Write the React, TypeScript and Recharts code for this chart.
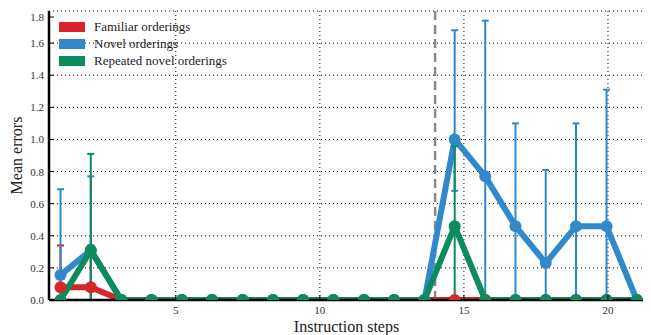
import { LineChart, Line, XAxis, YAxis, CartesianGrid, ErrorBar, ReferenceLine, Legend } from "recharts"

const steps = [1.0, 2.05, 3.11, 4.16, 5.21, 6.26, 7.32, 8.37, 9.42, 10.47, 11.53, 12.58, 13.63, 14.68, 15.74, 16.79, 17.84, 18.89, 19.95, 21.0]

const familiar = [0.08, 0.08, 0, 0, 0, 0, 0, 0, 0, 0, 0, 0, 0, 0, 0, 0, 0, 0, 0, 0]
const familiarUpper = [0.34, 0.34, null, null, null, null, null, null, null, null, null, null, null, null, null, null, null, null, null, null]
const familiarLower = [0, 0, null, null, null, null, null, null, null, null, null, null, null, null, null, null, null, null, null, null]

const novel = [0.155, 0.31, 0, 0, 0, 0, 0, 0, 0, 0, 0, 0, 0, 1.0, 0.77, 0.46, 0.23, 0.46, 0.46, 0]
const novelUpper = [0.69, 0.77, null, null, null, null, null, null, null, null, null, null, null, 1.68, 1.74, 1.1, 0.81, 1.1, 1.31, null]
const novelLower = [0, 0, null, null, null, null, null, null, null, null, null, null, null, 0.68, 0, 0, 0, 0, 0, null]

const repeated = [0, 0.31, 0, 0, 0, 0, 0, 0, 0, 0, 0, 0, 0, 0.46, 0, 0, 0, 0, 0, 0]
const repeatedUpper = [null, 0.91, null, null, null, null, null, null, null, null, null, null, null, 0.96, null, null, null, null, null, null]
const repeatedLower = [null, 0, null, null, null, null, null, null, null, null, null, null, null, 0, null, null, null, null, null, null]

const xTicks = [5, 10, 15, 20]
const yTicks = [0, 0.2, 0.4, 0.6, 0.8, 1.0, 1.2, 1.4, 1.6, 1.8]
const switchStep = 14

const seriesNames = ["Familiar orderings", "Novel orderings", "Repeated novel orderings"]
const colors = ["#d8242b", "#3189cb", "#0b8b5e"]

const font = "'Liberation Serif', 'Times New Roman', serif"

const err = (v: number, lo: number | null, hi: number | null) =>
  hi == null || lo == null ? null : [v - lo, hi - v]

const data = steps.map((step, i) => ({
  step,
  familiar: familiar[i],
  novel: novel[i],
  repeated: repeated[i],
  familiarErr: err(familiar[i], familiarLower[i], familiarUpper[i]),
  novelErr: err(novel[i], novelLower[i], novelUpper[i]),
  repeatedErr: err(repeated[i], repeatedLower[i], repeatedUpper[i]),
}))

function XTick(props: any) {
  const { x, y, payload } = props
  return (
    <g>
      <line x1={x} x2={x} y1={y} y2={y - 5} stroke="#000" strokeWidth={1} />
      <text x={x} y={y + 10} textAnchor="middle" dominantBaseline="central" fontFamily={font} fontSize={11} fill="#333">
        {payload.value}
      </text>
    </g>
  )
}

function YTick(props: any) {
  const { x, y, payload } = props
  return (
    <g>
      <line x1={x} x2={x + 5} y1={y} y2={y} stroke="#000" strokeWidth={1} />
      <text x={x - 5} y={y} textAnchor="end" dominantBaseline="central" fontFamily={font} fontSize={11} fill="#333">
        {Number(payload.value).toFixed(1)}
      </text>
    </g>
  )
}

function LegendBox() {
  return (
    <div style={{ fontFamily: font, fontSize: 13, color: "#222" }}>
      {seriesNames.map((name, i) => (
        <div key={name} style={{ display: "flex", alignItems: "center", height: 17 }}>
          <span style={{ display: "inline-block", width: 26, height: 10, background: colors[i], marginRight: 9 }} />
          <span>{name}</span>
        </div>
      ))}
    </div>
  )
}

export default function App() {
  return (
    <LineChart width={643} height={327} data={data} margin={{ top: 3, right: 7, bottom: 0, left: 0 }}>
      <CartesianGrid stroke="#000" strokeDasharray="1 3" strokeWidth={1} />
      <ReferenceLine x={switchStep} stroke="#8a8a8a" strokeWidth={2.5} strokeDasharray="9 5" />
      <Line
        dataKey="familiar"
        stroke={colors[0]}
        strokeWidth={6}
        dot={{ r: 6, fill: colors[0], stroke: "none" }}
        activeDot={false}
        isAnimationActive={false}
      >
        <ErrorBar dataKey="familiarErr" direction="y" width={3.5} stroke={colors[0]} strokeWidth={2} />
      </Line>
      <Line
        dataKey="novel"
        stroke={colors[1]}
        strokeWidth={6}
        dot={{ r: 6, fill: colors[1], stroke: "none" }}
        activeDot={false}
        isAnimationActive={false}
      >
        <ErrorBar dataKey="novelErr" direction="y" width={3.5} stroke={colors[1]} strokeWidth={2} />
      </Line>
      <Line
        dataKey="repeated"
        stroke={colors[2]}
        strokeWidth={6}
        dot={{ r: 6, fill: colors[2], stroke: "none" }}
        activeDot={false}
        isAnimationActive={false}
      >
        <ErrorBar dataKey="repeatedErr" direction="y" width={3.5} stroke={colors[2]} strokeWidth={2} />
      </Line>
      <XAxis
        dataKey="step"
        type="number"
        domain={[0.6, 21.25]}
        allowDataOverflow
        ticks={xTicks}
        height={35}
        tickSize={0}
        tickMargin={0}
        tickLine={false}
        tick={(p: any) => <XTick {...p} />}
        axisLine={{ stroke: "#000", strokeWidth: 2.5 }}
        label={{
          content: (p: any) => {
            const vb = p.viewBox
            return (
              <text x={vb.x + vb.width / 2} y={vb.y + 26} textAnchor="middle" dominantBaseline="central" fontFamily={font} fontSize={16} fill="#222">
                Instruction steps
              </text>
            )
          },
        }}
      />
      <YAxis
        type="number"
        domain={[0, 1.8]}
        allowDataOverflow
        ticks={yTicks}
        width={41}
        tickSize={0}
        tickMargin={0}
        tickLine={false}
        tick={(p: any) => <YTick {...p} />}
        axisLine={{ stroke: "#000", strokeWidth: 2.5 }}
        label={{
          content: (p: any) => {
            const vb = p.viewBox
            const cx = vb.x + 8
            const cy = vb.y + vb.height / 2
            return (
              <text x={cx} y={cy} transform={`rotate(-90 ${cx} ${cy})`} textAnchor="middle" dominantBaseline="central" fontFamily={font} fontSize={16} fill="#222">
                Mean errors
              </text>
            )
          },
        }}
      />
      <Legend
        layout="horizontal"
        verticalAlign="middle"
        align="center"
        wrapperStyle={{ top: 10, left: 51, width: "auto", height: "auto" }}
        content={() => <LegendBox />}
      />
    </LineChart>
  )
}
